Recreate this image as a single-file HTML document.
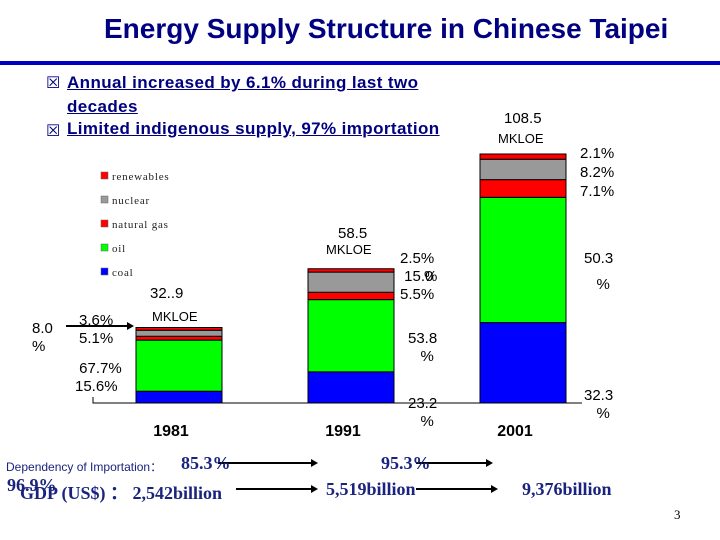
<!DOCTYPE html>
<html><head><meta charset="utf-8"><style>
body{margin:0;width:720px;height:540px;background:#fff;overflow:hidden;position:relative;font-family:"Liberation Sans",sans-serif}
.a{position:absolute;white-space:nowrap}
.t{font-size:15px;color:#000;line-height:18px}
.ser{font-family:"Liberation Serif",serif;font-weight:bold;color:#1a237e}
.bx{position:absolute;font-size:16px;font-weight:normal;color:#000080}
</style></head><body>
<div class="a" style="left:104px;top:13px;font-size:28px;font-weight:bold;color:#000080">Energy Supply Structure in Chinese Taipei</div>
<div class="a" style="left:0;top:61px;width:720px;height:4px;background:#0000c0"></div>
<div class="bx" style="left:46px;top:73px">☒</div>
<div class="bx" style="left:46px;top:121px">☒</div>
<div class="a" style="left:67px;top:71px;font-size:17px;font-weight:bold;color:#000080;line-height:24px;letter-spacing:0.4px"><u>Annual increased by 6.1% during last two</u><br><u>decades</u></div>
<div class="a" style="left:67px;top:119px;font-size:17px;font-weight:bold;color:#000080;letter-spacing:0.4px"><u>Limited indigenous supply, 97% importation</u></div>

<svg id="chart" class="a" style="left:0;top:0" width="720" height="540"></svg>

<div class="a t" style="left:150px;top:285px">32..9</div>
<div class="a" style="left:152px;top:309px;font-size:13px">MKLOE</div>
<div class="a t" style="left:32px;top:320px">8.0<br>%</div>
<div class="a t" style="left:79px;top:312px">3.6%<br>5.1%</div>
<div class="a t" style="left:75px;top:360px">&nbsp;67.7%<br>15.6%</div>
<div class="a t" style="left:338px;top:225px">58.5</div>
<div class="a" style="left:326px;top:242px;font-size:13px">MKLOE</div>
<div class="a t" style="left:400px;top:250px">2.5%<br>&nbsp;15.0<br>5.5%</div>
<div class="a t" style="left:424px;top:268px">%</div>
<div class="a t" style="left:408px;top:330px">53.8<br>&nbsp;&nbsp;&nbsp;%</div>
<div class="a t" style="left:408px;top:395px">23.2<br>&nbsp;&nbsp;&nbsp;%</div>
<div class="a t" style="left:504px;top:110px">108.5</div>
<div class="a" style="left:498px;top:131px;font-size:13px">MKLOE</div>
<div class="a t" style="left:580px;top:144px;line-height:19px">2.1%<br>8.2%<br>7.1%</div>
<div class="a t" style="left:584px;top:246px;line-height:26px">50.3<br>&nbsp;&nbsp;&nbsp;%</div>
<div class="a t" style="left:584px;top:387px">32.3<br>&nbsp;&nbsp;&nbsp;%</div>

<div class="a" style="left:6px;top:458px;font-size:12px;color:#1a237e">Dependency of Importation：</div>
<div class="a ser" style="left:181px;top:453px;font-size:18px">85.3%</div>
<div class="a ser" style="left:381px;top:453px;font-size:18px">95.3%</div>
<div class="a ser" style="left:7px;top:475px;font-size:18px">96.9%</div>
<div class="a ser" style="left:20px;top:479px;font-size:18px">GDP (US$) ： 2,542billion</div>
<div class="a ser" style="left:326px;top:479px;font-size:18px">5,519billion</div>
<div class="a ser" style="left:522px;top:479px;font-size:18px">9,376billion</div>
<div class="a" style="left:674px;top:507px;font-size:13px;font-family:'Liberation Serif',serif">3</div>

<script>
const years=['1981','1991','2001'];
const totals=[32.9,58.5,108.5];
const coal=[15.6,23.2,32.3];
const oil=[67.7,53.8,50.3];
const gas=[5.1,5.5,7.1];
const nuclear=[8.0,15.0,8.2];
const renew=[3.6,2.5,2.1];
const legendNames=['renewables','nuclear','natural gas','oil','coal'];
const NS='http://www.w3.org/2000/svg';
const svg=document.getElementById('chart');
const base=403, pxPer=249/108.5;
const yS=v=>base-v*pxPer;
const xS=i=>136+i*172;
const bw=86;
function mk(t,a){const e=document.createElementNS(NS,t);for(const k in a)e.setAttribute(k,a[k]);svg.appendChild(e);return e;}
const series=[[coal,'#0000ff','coal'],[oil,'#00ff00','oil'],[gas,'#ff0000','gas'],[nuclear,'#999999','nuclear'],[renew,'#ff0000','renewables']];
years.forEach((yr,i)=>{
  let cum=0;
  series.forEach(([arr,col,nm])=>{
    const v=totals[i]*arr[i]/100;
    const r=mk('rect',{x:xS(i),y:yS(cum+v),width:bw,height:v*pxPer,fill:col,stroke:'#000','stroke-width':1});
    
    
    cum+=v;
  });
  const t=mk('text',{x:xS(i)+bw/2-8,y:436,'text-anchor':'middle','font-size':16,'font-weight':'bold','font-family':'Liberation Sans'});
  t.textContent=yr;
  
  
});
const ax=mk('path',{d:'M93 397 V403 H582',stroke:'#000',fill:'none'});


const lc=['#ff0000','#999999','#ff0000','#00ff00','#0000ff'];
legendNames.forEach((n,k)=>{
  const y=172+k*24;
  const r=mk('rect',{x:101,y:y,width:7,height:7,fill:lc[k],stroke:'#666','stroke-width':0.5});
  
  
  const t=mk('text',{x:112,y:y+8,'font-size':11,'font-family':'Liberation Serif',fill:'#222','letter-spacing':0.8});
  t.textContent=n;
  
  
});
function arrow(x1,x2,y,name){
  const l=mk('line',{x1:x1,y1:y,x2:x2-6,y2:y,stroke:'#000','stroke-width':2});
  
  
  const p=mk('polygon',{points:`${x2},${y} ${x2-7},${y-4} ${x2-7},${y+4}`,fill:'#000'});
  
  
}
arrow(66,134,326,'arrow-1981-nuclear');
arrow(218,318,463,'arrow-dep-1');
arrow(416,493,463,'arrow-dep-2');
arrow(236,318,489,'arrow-gdp-1');
arrow(416,498,489,'arrow-gdp-2');
</script>
</body></html>
